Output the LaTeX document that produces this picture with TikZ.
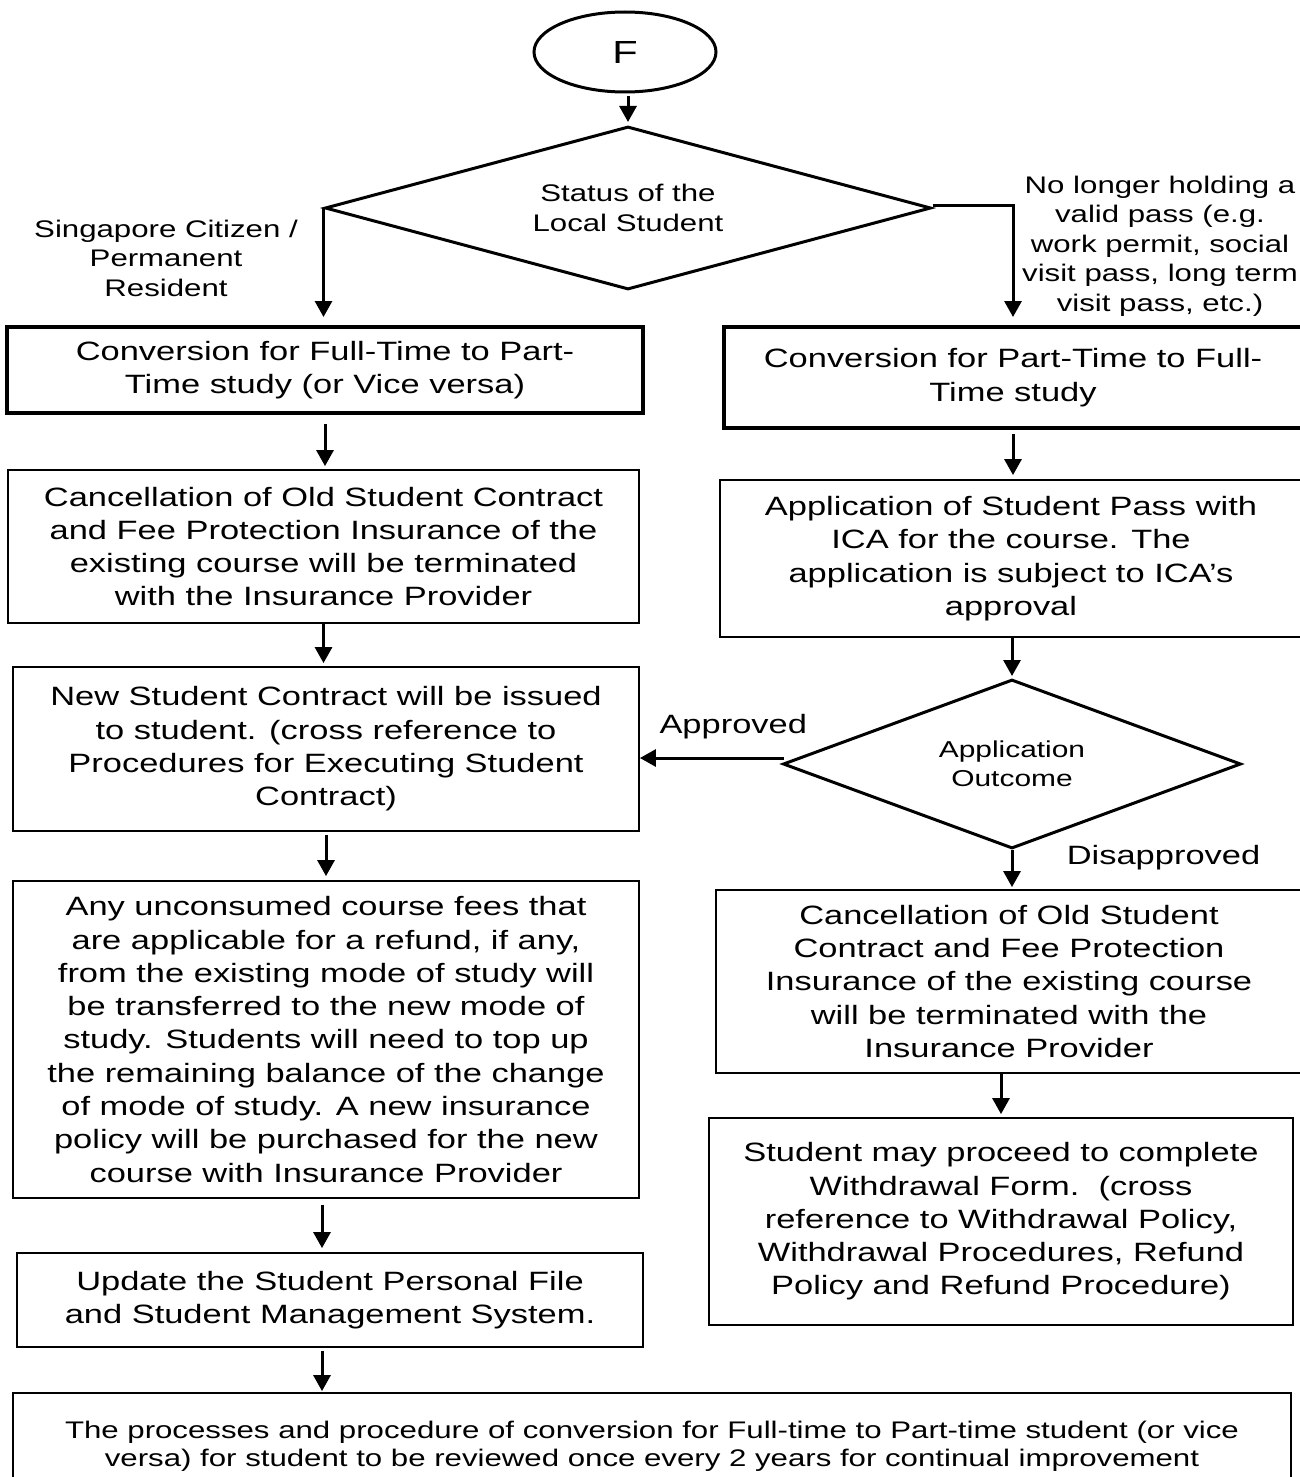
\documentclass[tikz,border=0pt]{standalone}
\usepackage{fontspec}
\setmainfont{Liberation Sans}[FakeStretch=1.3]
\usetikzlibrary{arrows.meta, shapes.geometric, positioning, calc}

\begin{document}
\begin{tikzpicture}[
  x=1pt, y=-1pt,
  line/.style={draw, -{Triangle[length=16pt,width=17pt]}, line width=3pt},
  box/.style={rectangle, draw, line width=1.8pt, align=center, fill=white, inner sep=0pt,
              font=\fontsize{26.5}{33.3}\selectfont},
  thickbox/.style={box, line width=4pt},
  decision/.style={diamond, draw, line width=3pt, align=center, inner sep=0pt,
              font=\fontsize{24}{30}\selectfont},
  lbl/.style={align=center, inner sep=0pt, font=\fontsize{24}{29.5}\selectfont}
]
\useasboundingbox (0,0) rectangle (1299,1477);

% =======================================================
%                     MAIN COMPONENTS
% =======================================================
\node[ellipse, draw, line width=3pt, minimum width=182pt, minimum height=80pt,
      font=\fontsize{32}{36}\selectfont] (start) at (625,52) {F};
\node[decision, aspect=3.7, minimum width=606pt, minimum height=163pt] (status) at (628,208)
  {Status of the\\Local Student};

% Left column (Singapore Citizen / PR)
\node[thickbox, minimum width=636pt, minimum height=86pt] (ftpt) at (325,370)
  {Conversion for Full-Time to Part-\\Time study (or Vice versa)};
\node[box, minimum width=631pt, minimum height=153pt] (cancelL) at (323.5,546.5)
  {Cancellation of Old Student Contract\\and Fee Protection Insurance of the\\existing course will be terminated\\with the Insurance Provider};
\node[box, minimum width=626pt, minimum height=164pt] (newsc) at (326,749)
  {New Student Contract will be issued\\to student. (cross reference to\\Procedures for Executing Student\\Contract)};
\node[box, minimum width=626pt, minimum height=317pt] (fees) at (326,1039.5)
  {Any unconsumed course fees that\\are applicable for a refund, if any,\\from the existing mode of study will\\be transferred to the new mode of\\study. Students will need to top up\\the remaining balance of the change\\of mode of study. A new insurance\\policy will be purchased for the new\\course with Insurance Provider};
\node[box, minimum width=626pt, minimum height=94pt] (update) at (330,1300)
  {Update the Student Personal File\\and Student Management System.};

% Right column (no valid pass)
\node[thickbox, minimum width=578pt, minimum height=101pt] (ptft) at (1013,377.5)
  {Conversion for Part-Time to Full-\\Time study};
\node[box, minimum width=582pt, minimum height=157pt] (pass) at (1011,558.5)
  {Application of Student Pass with\\ICA for the course. The\\application is subject to ICA’s\\approval};
\node[decision, aspect=2.7, minimum width=458pt, minimum height=169pt, font=\fontsize{23}{29}\selectfont]
  (outcome) at (1012,764) {Application\\Outcome};
\node[box, minimum width=586pt, minimum height=183pt] (cancelR) at (1009,981.5)
  {Cancellation of Old Student\\Contract and Fee Protection\\Insurance of the existing course\\will be terminated with the\\Insurance Provider};
\node[box, minimum width=584pt, minimum height=207pt] (withdraw) at (1001,1221.5)
  {Student may proceed to complete\\Withdrawal Form.~~(cross\\reference to Withdrawal Policy,\\Withdrawal Procedures, Refund\\Policy and Refund Procedure)};

% Review box at the bottom
\node[box, minimum width=1278pt, minimum height=106pt, font=\fontsize{24}{28}\selectfont]
  (review) at (652,1446)
  {The processes and procedure of conversion for Full-time to Part-time student (or vice\\versa) for student to be reviewed once every 2 years for continual improvement};

% Branch labels
\node[lbl] (citizen) at (166,258) {Singapore Citizen /\\Permanent\\Resident};
\node[lbl] (nopass) at (1160,246) {No longer holding a\\valid pass (e.g.\\work permit, social\\visit pass, long term\\visit pass, etc.)};

% =======================================================
%                     CONNECTIONS
% =======================================================
\draw[line, shorten <=3pt, shorten >=3pt] (status.north |- start.south) -- (status.north);

% status -> both columns
\draw[line, shorten >=8pt] (status.west) -- (status.west |- ftpt.north);
\draw[line, shorten >=8pt] ($(status.east)+(0,-3)$) -| (ptft.north);

% left chain
\draw[line, shorten <=9pt, shorten >=3pt] (ftpt.south) -- (ftpt.south |- cancelL.north);
\draw[line, shorten >=3pt] (cancelL.south) -- (cancelL.south |- newsc.north);
\draw[line, shorten <=3pt, shorten >=4pt] (newsc.south) -- (newsc.south |- fees.north);
\draw[line, shorten <=6pt, shorten >=4pt] ($(fees.south)+(-4,0)$) -- ($(fees.south |- update.north)+(-4,0)$);
\draw[line, shorten <=3pt, shorten >=1pt] ($(update.south)+(-8,0)$) -- ($(update.south |- review.north)+(-8,0)$);

% right chain
\draw[line, shorten <=4pt, shorten >=4pt] (ptft.south) -- (ptft.south |- pass.north);
\draw[line, shorten >=2pt] (outcome.north |- pass.south) -- (outcome.north);
\draw[line] ($(outcome.west)+(2,-6)$) --
  node[pos=0.35, above=14pt, font=\fontsize{26.5}{32}\selectfont] (approved) {Approved}
  ($(outcome.west -| newsc.east)+(0,-6)$);
\draw[line, shorten >=2pt] (outcome.south) -- (outcome.south |- cancelR.north)
  node[pos=0.2, right=50pt, font=\fontsize{26.5}{32}\selectfont] (disapproved) {Disapproved};
\draw[line, shorten >=3pt] (withdraw.north |- cancelR.south) -- (withdraw.north);

\end{tikzpicture}
\end{document}
